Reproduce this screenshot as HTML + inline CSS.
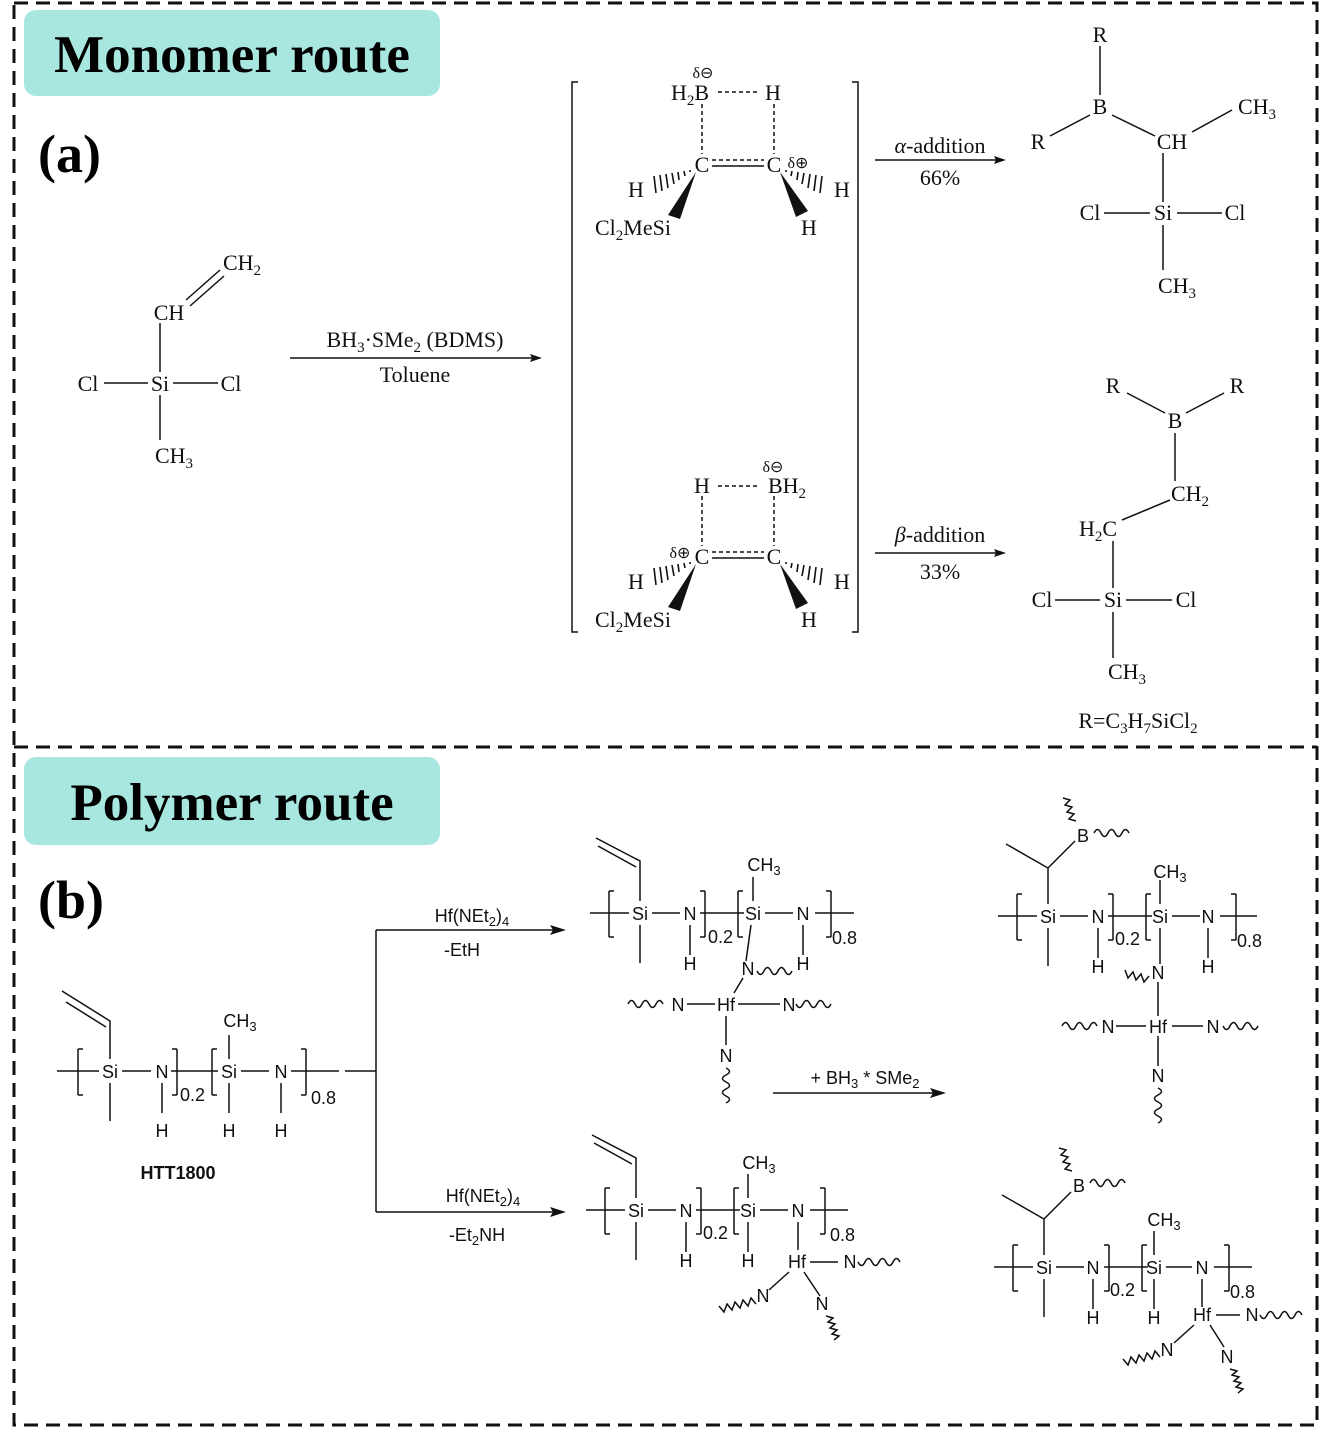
<!DOCTYPE html>
<html><head><meta charset="utf-8">
<style>
html,body{margin:0;padding:0;background:#fff;}
svg{display:block;}
.s{font-family:"Liberation Serif",serif;font-size:22px;fill:#111;}
.f{font-family:"Liberation Sans",sans-serif;font-size:18px;fill:#111;}
</style></head><body>
<svg width="1320" height="1429" viewBox="0 0 1320 1429" xmlns="http://www.w3.org/2000/svg">
<g fill="none" stroke="#111" stroke-width="3" stroke-dasharray="14 8">
<rect x="14" y="3" width="1303" height="1422"/>
<line x1="14" y1="747" x2="1317" y2="747"/>
</g>
<rect x="24" y="10" width="416" height="86" rx="12" fill="#a8e6e0"/>
<rect x="24" y="757" width="416" height="88" rx="12" fill="#a8e6e0"/>
<text x="232" y="72" text-anchor="middle" style="font-family:'Liberation Serif',serif;font-weight:bold;font-size:53px;fill:#000">Monomer route</text>
<text x="232" y="820" text-anchor="middle" style="font-family:'Liberation Serif',serif;font-weight:bold;font-size:53px;fill:#000">Polymer route</text>
<text x="38" y="172" style="font-family:'Liberation Serif',serif;font-weight:bold;font-size:54px;fill:#000">(a)</text>
<text x="38" y="918" style="font-family:'Liberation Serif',serif;font-weight:bold;font-size:54px;fill:#000">(b)</text>

<g stroke="#111" stroke-width="1.5" fill="none">
<path d="M104 383H148 M173 383H218 M160 395V440 M160 323V372 M186 300L220 270 M190 306L224 276"/>
<path d="M290 358H536"/>
<path d="M578 82H572V632H578 M852 82H858V632H852"/>
<path d="M718 92H760 M702 104V154 M774 104V154 M712 160H764" stroke-dasharray="4 3"/>
<path d="M712 166H764"/>
<path d="M718 486H760 M702 496V546 M774 496V546 M712 552H764" stroke-dasharray="4 3"/>
<path d="M712 558H764"/>
<path d="M875 160H1000 M875 553H1000"/>
<path d="M1100 46V95 M1090 115L1050 136 M1112 115L1155 136 M1192 132L1232 110 M1163 153V202 M1104 213H1150 M1177 213H1222 M1163 225V270"/>
<path d="M1127 393L1165 413 M1186 413L1224 393 M1175 433V481 M1170 500L1122 520 M1113 541V588 M1055 600H1100 M1126 600H1172 M1113 612V658"/>
</g>
<g fill="#111">
<path d="M542 358L530 354L532 358L530 362Z"/>
<path d="M1006 160L994 156L996 160L994 164Z"/>
<path d="M1006 553L994 549L996 553L994 557Z"/>
<path d="M696 172L668 215L680 219Z"/>
<path d="M780 172L796 217L808 211Z"/>
<path d="M696 564L668 607L680 611Z"/>
<path d="M780 564L796 609L808 603Z"/>
</g>
<g stroke="#111" stroke-width="1.6">
<path d="M690 170L690 172 M684 171L685 176 M678 172L679 180 M672 173L674 184 M666 174L668 188 M660 175L662 191 M654 176L656 193"/>
<path d="M786 170L786 172 M792 171L791 176 M798 172L797 180 M804 173L802 184 M810 174L808 188 M816 175L814 191 M822 176L820 193"/>
<path d="M690 562L690 564 M684 563L685 568 M678 564L679 572 M672 565L674 576 M666 566L668 580 M660 567L662 583 M654 568L656 585"/>
<path d="M786 562L786 564 M792 563L791 568 M798 564L797 572 M804 565L802 576 M810 566L808 580 M816 567L814 583 M822 568L820 585"/>
</g>
<g class="s" text-anchor="middle">
<text x="88" y="391">Cl</text><text x="160" y="391">Si</text><text x="231" y="391">Cl</text>
<text x="174" y="463">CH<tspan font-size="15" dy="5">3</tspan></text>
<text x="169" y="320">CH</text>
<text x="242" y="270">CH<tspan font-size="15" dy="5">2</tspan></text>
<text x="415" y="347">BH<tspan font-size="15" dy="5">3</tspan><tspan dy="-5">·SMe</tspan><tspan font-size="15" dy="5">2</tspan><tspan dy="-5"> (BDMS)</tspan></text>
<text x="415" y="382">Toluene</text>
<text x="690" y="100">H<tspan font-size="15" dy="5">2</tspan><tspan dy="-5">B</tspan></text>
<text x="703" y="78" font-size="16">δ⊖</text>
<text x="773" y="100">H</text>
<text x="702" y="172">C</text><text x="774" y="172">C</text>
<text x="798" y="168" font-size="16">δ⊕</text>
<text x="636" y="197">H</text><text x="842" y="197">H</text>
<text x="633" y="235">Cl<tspan font-size="15" dy="5">2</tspan><tspan dy="-5">MeSi</tspan></text>
<text x="809" y="235">H</text>
<text x="702" y="493">H</text>
<text x="787" y="493">BH<tspan font-size="15" dy="5">2</tspan></text>
<text x="773" y="472" font-size="16">δ⊖</text>
<text x="702" y="564">C</text><text x="774" y="564">C</text>
<text x="680" y="558" font-size="16">δ⊕</text>
<text x="636" y="589">H</text><text x="842" y="589">H</text>
<text x="633" y="627">Cl<tspan font-size="15" dy="5">2</tspan><tspan dy="-5">MeSi</tspan></text>
<text x="809" y="627">H</text>
<text x="940" y="153"><tspan font-style="italic">α</tspan>-addition</text>
<text x="940" y="185">66%</text>
<text x="940" y="542"><tspan font-style="italic">β</tspan>-addition</text>
<text x="940" y="579">33%</text>
<text x="1100" y="42">R</text><text x="1100" y="114">B</text><text x="1038" y="149">R</text>
<text x="1172" y="149">CH</text>
<text x="1257" y="114">CH<tspan font-size="15" dy="5">3</tspan></text>
<text x="1090" y="220">Cl</text><text x="1163" y="220">Si</text><text x="1235" y="220">Cl</text>
<text x="1177" y="293">CH<tspan font-size="15" dy="5">3</tspan></text>
<text x="1113" y="393">R</text><text x="1237" y="393">R</text><text x="1175" y="428">B</text>
<text x="1190" y="501">CH<tspan font-size="15" dy="5">2</tspan></text>
<text x="1098" y="536">H<tspan font-size="15" dy="5">2</tspan><tspan dy="-5">C</tspan></text>
<text x="1042" y="607">Cl</text><text x="1113" y="607">Si</text><text x="1186" y="607">Cl</text>
<text x="1127" y="679">CH<tspan font-size="15" dy="5">3</tspan></text>
<text x="1138" y="728">R=C<tspan font-size="15" dy="5">3</tspan><tspan dy="-5">H</tspan><tspan font-size="15" dy="5">7</tspan><tspan dy="-5">SiCl</tspan><tspan font-size="15" dy="5">2</tspan></text>
</g>

<g stroke="#111" stroke-width="1.5" fill="none">
<path d="M345 1071H376 M376 930V1212 M376 930H558 M376 1212H558 M773 1093H938"/>
</g>
<g fill="#111">
<path d="M566 930L550 925L553 930L550 935Z"/>
<path d="M566 1212L550 1207L553 1212L550 1217Z"/>
<path d="M946 1093L930 1088L933 1093L930 1098Z"/>
</g>
<g class="f" text-anchor="middle">
<text x="472" y="922">Hf(NEt<tspan font-size="13" dy="4">2</tspan><tspan dy="-4">)</tspan><tspan font-size="13" dy="4">4</tspan></text>
<text x="462" y="956">-EtH</text>
<text x="483" y="1202">Hf(NEt<tspan font-size="13" dy="4">2</tspan><tspan dy="-4">)</tspan><tspan font-size="13" dy="4">4</tspan></text>
<text x="477" y="1241">-Et<tspan font-size="13" dy="4">2</tspan><tspan dy="-4">NH</tspan></text>
<text x="865" y="1084">+ BH<tspan font-size="13" dy="4">3</tspan><tspan dy="-4"> * SMe</tspan><tspan font-size="13" dy="4">2</tspan></text>
<text x="178" y="1179" font-weight="bold">HTT1800</text>
</g>

<!-- HTT1800 -->
<g transform="translate(110,1071)">
<g stroke="#111" stroke-width="1.5" fill="none">
<path d="M-53 0H-11 M-32 -22V24 M-32 -22h5 M-32 24h5 M12 0H41 M61 0H108 M67 -22V24 M67 -22h-5 M67 24h-5 M102 -22V24 M102 -22h5 M102 24h5 M131 0H159 M181 0H229 M196 -22V24 M196 -22h-5 M196 24h-5 M52 12V42 M171 12V42 M119 12V42 M0 12V50 M119 -12V-36 M0 -12V-50 L-48 -80 M-4 -44 L-44 -69"/>
</g>
<g class="f" text-anchor="middle">
<text x="0" y="7">Si</text><text x="52" y="7">N</text><text x="119" y="7">Si</text><text x="171" y="7">N</text>
<text x="70" y="30" text-anchor="start">0.2</text><text x="201" y="33" text-anchor="start">0.8</text>
<text x="52" y="66">H</text><text x="119" y="66">H</text><text x="171" y="66">H</text>
<text x="130" y="-44">CH<tspan font-size="13" dy="4">3</tspan></text>
</g>
</g>

<!-- middle top -->
<g transform="translate(640,913)">
<g stroke="#111" stroke-width="1.5" fill="none">
<path d="M-50 0H-11 M-31 -22V24 M-31 -22h5 M-31 24h5 M12 0H40 M60 0H104 M65 -22V24 M65 -22h-5 M65 24h-5 M98 -22V24 M98 -22h5 M98 24h5 M125 0H153 M175 0H214 M191 -22V24 M191 -22h-5 M191 24h-5 M50 12V42 M163 12V42 M0 12V50 M113 -12V-36 M0 -12V-52 L-44 -75 M-4 -46 L-42 -67 M111 12L106 48 M103 65L94 80 M47 91H75 M98 91H140 M86 103V132"/>
<path d="M117 58q3.5 7 7 0t7 0t7 0t7 0t7 0" />
<path d="M-12 91q3.5 -7 7 0t7 0t7 0t7 0t7 0"/>
<path d="M156 91q3.5 7 7 0t7 0t7 0t7 0t7 0"/>
<path d="M86 155q7 3.5 0 7t0 7t0 7t0 7t0 7"/>
</g>
<g class="f" text-anchor="middle">
<text x="0" y="7">Si</text><text x="50" y="7">N</text><text x="113" y="7">Si</text><text x="163" y="7">N</text>
<text x="68" y="30" text-anchor="start">0.2</text><text x="192" y="31" text-anchor="start">0.8</text>
<text x="50" y="57">H</text><text x="163" y="57">H</text>
<text x="124" y="-42">CH<tspan font-size="13" dy="4">3</tspan></text>
<text x="108" y="62">N</text>
<text x="38" y="98">N</text><text x="86" y="98">Hf</text><text x="149" y="98">N</text>
<text x="86" y="149">N</text>
</g>
</g>

<!-- middle bottom -->
<g transform="translate(636,1210)">
<g stroke="#111" stroke-width="1.5" fill="none">
<path d="M-50 0H-11 M-31 -22V24 M-31 -22h5 M-31 24h5 M12 0H40 M60 0H104 M65 -22V24 M65 -22h-5 M65 24h-5 M98 -22V24 M98 -22h5 M98 24h5 M124 0H152 M174 0H212 M189 -22V24 M189 -22h-5 M189 24h-5 M50 12V42 M112 12V42 M0 12V50 M112 -12V-36 M0 -12V-52 L-44 -75 M-4 -46 L-42 -67 M162 12V40 M174 52H202 M153 62L133 80 M168 62L184 86"/>
<path d="M222 52q3.5 7 7 0t7 0t7 0t7 0t7 0t7 0"/>
<path d="M120 94l-5 -6l-3 8l-5 -6l-3 8l-5 -6l-3 8l-5 -6l-3 8l-5 -6"/>
<path d="M190 106l7 2l-5 4l7 2l-5 4l7 2l-5 4l7 2l-5 4"/>
</g>
<g class="f" text-anchor="middle">
<text x="0" y="7">Si</text><text x="50" y="7">N</text><text x="112" y="7">Si</text><text x="162" y="7">N</text>
<text x="67" y="29" text-anchor="start">0.2</text><text x="194" y="31" text-anchor="start">0.8</text>
<text x="50" y="57">H</text><text x="112" y="57">H</text>
<text x="123" y="-41">CH<tspan font-size="13" dy="4">3</tspan></text>
<text x="161" y="58">Hf</text><text x="214" y="58">N</text>
<text x="127" y="92">N</text><text x="186" y="100">N</text>
</g>
</g>

<!-- right top -->
<g transform="translate(1048,916)">
<g stroke="#111" stroke-width="1.5" fill="none">
<path d="M-50 0H-11 M-31 -22V24 M-31 -22h5 M-31 24h5 M12 0H40 M60 0H104 M65 -22V24 M65 -22h-5 M65 24h-5 M98 -22V24 M98 -22h5 M98 24h5 M124 0H152 M172 0H209 M188 -22V24 M188 -22h-5 M188 24h-5 M50 12V42 M160 12V42 M0 12V50 M112 -12V-36 M0 -12V-48 L-42 -72 M0 -48 L27 -75 M112 12V48 M110 66V100 M68 110H98 M124 110H155 M110 120V150"/>
<path d="M46 -83q3.5 -7 7 0t7 0t7 0t7 0t7 0"/>
<path d="M28 -95l-7 -2l5 -5l-7 -2l5 -5l-7 -2l5 -5l-7 -2"/>
<path d="M101 60l-5 6l-3 -8l-5 6l-3 -8l-5 6l-3 -8"/>
<path d="M14 110q3.5 -7 7 0t7 0t7 0t7 0t7 0"/>
<path d="M175 110q3.5 7 7 0t7 0t7 0t7 0t7 0"/>
<path d="M110 172q7 3.5 0 7t0 7t0 7t0 7t0 7"/>
</g>
<g class="f" text-anchor="middle">
<text x="0" y="7">Si</text><text x="50" y="7">N</text><text x="112" y="7">Si</text><text x="160" y="7">N</text>
<text x="67" y="29" text-anchor="start">0.2</text><text x="189" y="31" text-anchor="start">0.8</text>
<text x="50" y="57">H</text><text x="160" y="57">H</text>
<text x="122" y="-38">CH<tspan font-size="13" dy="4">3</tspan></text>
<text x="35" y="-74">B</text>
<text x="110" y="63">N</text>
<text x="60" y="117">N</text><text x="110" y="117">Hf</text><text x="165" y="117">N</text>
<text x="110" y="166">N</text>
</g>
</g>

<!-- right bottom -->
<g transform="translate(1044,1267)">
<g stroke="#111" stroke-width="1.5" fill="none">
<path d="M-50 0H-11 M-31 -22V24 M-31 -22h5 M-31 24h5 M12 0H40 M60 0H104 M65 -22V24 M65 -22h-5 M65 24h-5 M98 -22V24 M98 -22h5 M98 24h5 M122 0H148 M170 0H208 M185 -22V24 M185 -22h-5 M185 24h-5 M49 12V42 M110 12V42 M0 12V50 M110 -12V-36 M0 -12V-48 L-42 -72 M0 -48 L27 -75 M158 12V40 M172 48H196 M150 58L130 76 M166 58L180 80"/>
<path d="M46 -84q3.5 -7 7 0t7 0t7 0t7 0t7 0"/>
<path d="M28 -96l-7 -2l5 -5l-7 -2l5 -5l-7 -2l5 -5l-7 -2"/>
<path d="M216 48q3.5 7 7 0t7 0t7 0t7 0t7 0t7 0"/>
<path d="M116 90l-5 -6l-3 8l-5 -6l-3 8l-5 -6l-3 8l-5 -6l-3 8l-5 -6"/>
<path d="M186 102l7 2l-5 4l7 2l-5 4l7 2l-5 4l7 2l-5 4"/>
</g>
<g class="f" text-anchor="middle">
<text x="0" y="7">Si</text><text x="49" y="7">N</text><text x="110" y="7">Si</text><text x="158" y="7">N</text>
<text x="66" y="29" text-anchor="start">0.2</text><text x="186" y="31" text-anchor="start">0.8</text>
<text x="49" y="57">H</text><text x="110" y="57">H</text>
<text x="120" y="-41">CH<tspan font-size="13" dy="4">3</tspan></text>
<text x="35" y="-75">B</text>
<text x="158" y="54">Hf</text><text x="208" y="54">N</text>
<text x="123" y="89">N</text><text x="183" y="96">N</text>
</g>
</g>
</svg>
</body></html>
